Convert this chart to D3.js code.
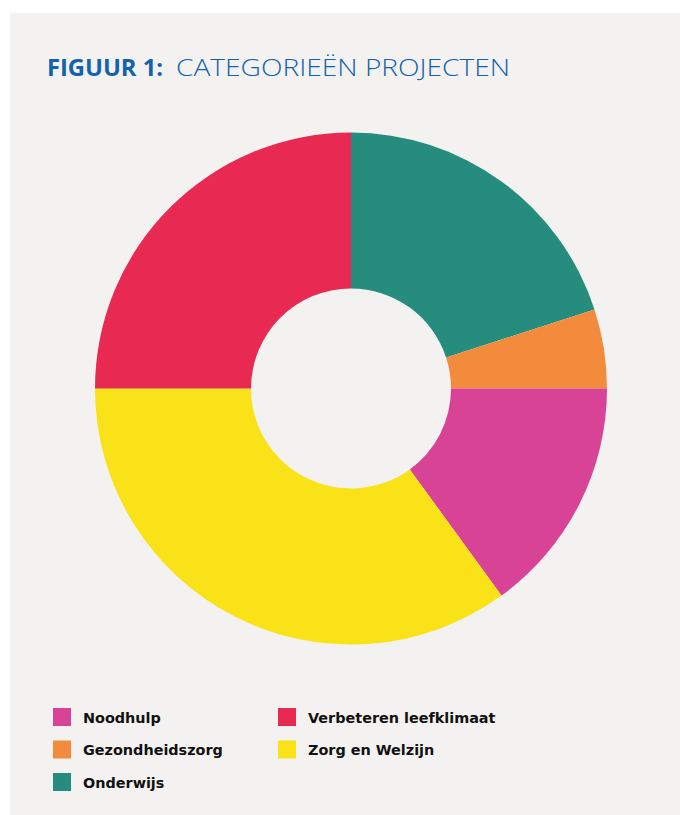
<!DOCTYPE html>
<html>
<head>
<meta charset="utf-8">
<script src="https://cdn.jsdelivr.net/npm/d3@7"></script>
<style>
  body { margin: 0; background: #ffffff; }
  svg { display: block; }
</style>
</head>
<body>
<svg></svg>
<script>
// slices in drawing order, clockwise from 12 o'clock
let categories = ["Onderwijs", "Gezondheidszorg", "Noodhulp", "Zorg en Welzijn", "Verbeteren leefklimaat"];
let values = [20, 5, 15, 35, 25];
let colors = ["#268c7e", "#f28c3c", "#d94396", "#fae218", "#e82a52"];

// legend order (two columns)
let legendCol1 = ["Noodhulp", "Gezondheidszorg", "Onderwijs"];
let legendCol2 = ["Verbeteren leefklimaat", "Zorg en Welzijn"];

let svgWidth = 680, svgHeight = 815;

let svg = d3.select("svg")
  .attr("width", svgWidth)
  .attr("height", svgHeight);

// grey panel
svg.append("rect")
  .attr("x", 10).attr("y", 13)
  .attr("width", svgWidth - 10).attr("height", svgHeight - 13)
  .attr("fill", "#f3f2f0");

// title (two parts, bold + light)
svg.append("text")
  .attr("x", 47).attr("y", 76)
  .attr("fill", "#1262ad")
  .attr("textLength", 116)
  .attr("lengthAdjust", "spacingAndGlyphs")
  .style("font-family", "'Open Sans', sans-serif")
  .style("font-weight", 700)
  .style("font-size", "24px")
  .text("FIGUUR 1:");
svg.append("text")
  .attr("x", 176).attr("y", 76)
  .attr("fill", "#1262ad")
  .attr("textLength", 334)
  .attr("lengthAdjust", "spacingAndGlyphs")
  .style("font-family", "'Open Sans', sans-serif")
  .style("font-weight", 300)
  .style("font-size", "24px")
  .text("CATEGORIEËN PROJECTEN");

let color = d3.scaleOrdinal().domain(categories).range(colors);

let pie = d3.pie().sort(null).value(d => d.value);
let arc = d3.arc().innerRadius(100).outerRadius(256);

let data = categories.map((c, i) => ({ name: c, value: values[i] }));

svg.append("g")
  .attr("transform", "translate(351, 388.5)")
  .selectAll("path")
  .data(pie(data))
  .enter()
  .append("path")
  .attr("d", arc)
  .attr("fill", d => color(d.data.name));

// legend
function legend(items, x) {
  let g = svg.append("g").selectAll("g")
    .data(items)
    .enter()
    .append("g")
    .attr("transform", (d, i) => "translate(" + x + "," + (708 + i * 32.5) + ")");
  g.append("rect")
    .attr("width", 18).attr("height", 18)
    .attr("fill", d => color(d));
  g.append("text")
    .attr("x", 30).attr("y", 14.5)
    .attr("fill", "#111")
    .style("font-family", "'DejaVu Sans', sans-serif")
    .style("font-weight", 700)
    .style("font-size", "14.4px")
    .text(d => d);
}
legend(legendCol1, 53);
legend(legendCol2, 278);
</script>
</body>
</html>
